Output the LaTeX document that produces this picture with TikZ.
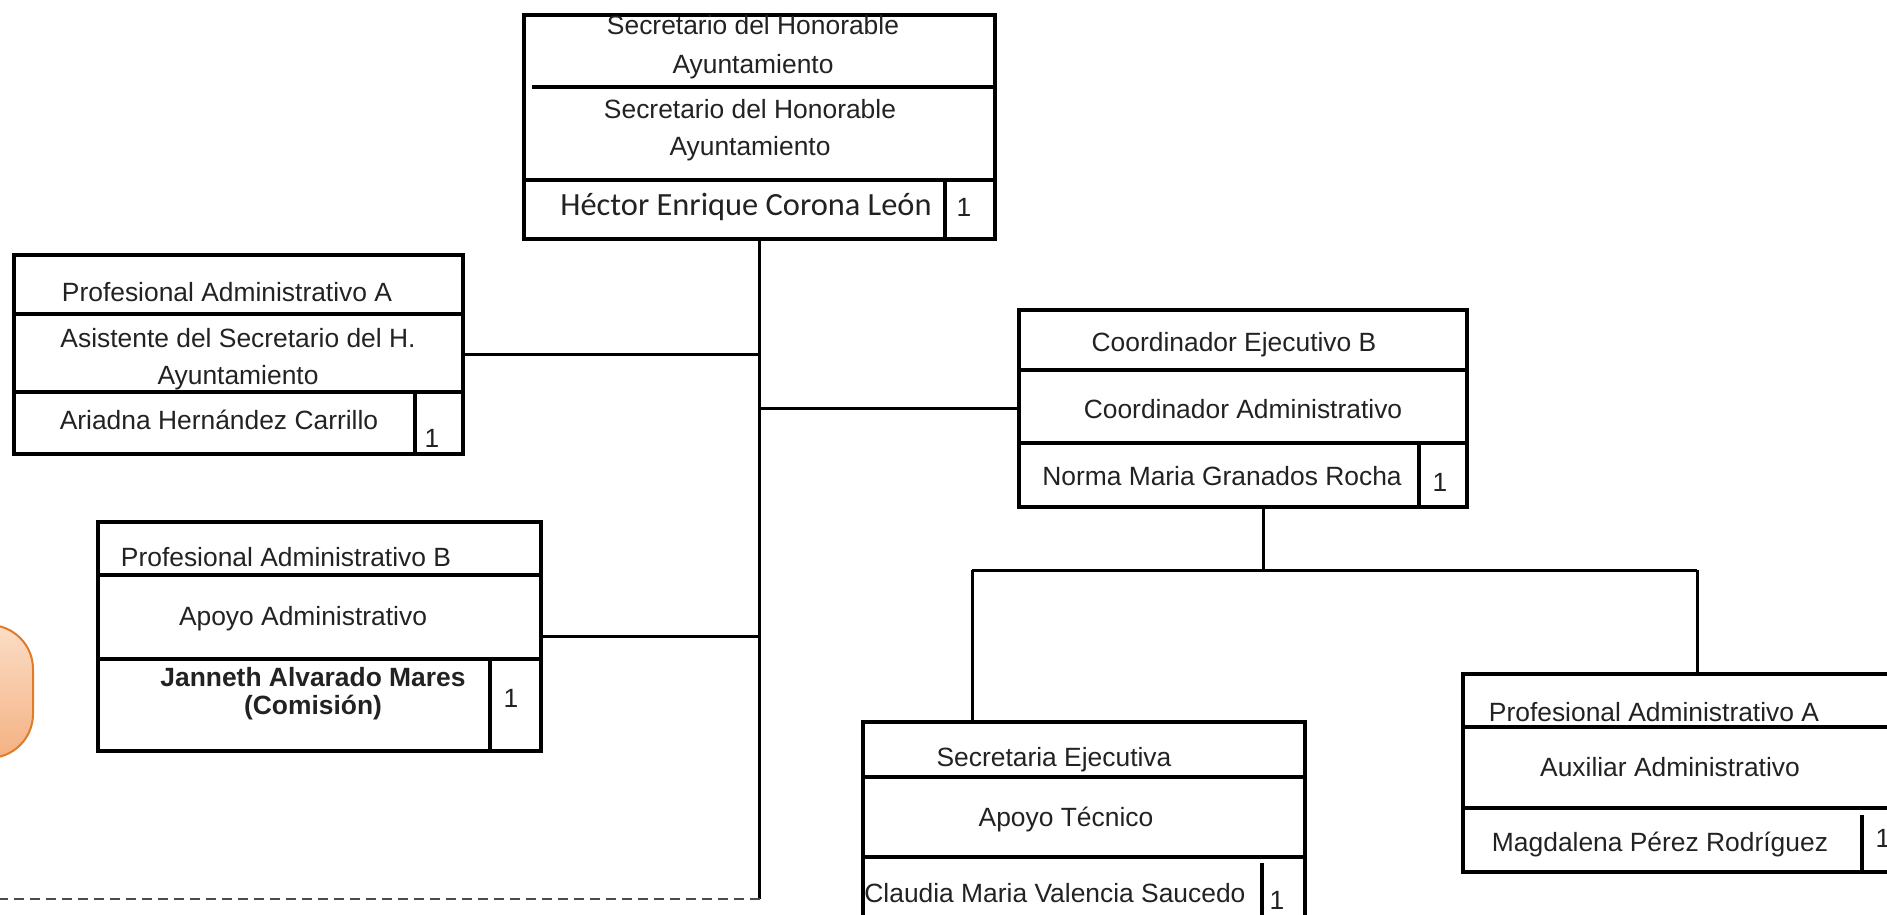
\documentclass[tikz,border=0pt]{standalone}
\usepackage{fontspec}
\setmainfont{Liberation Sans}
\newfontfamily\namefont{Carlito}
\usetikzlibrary{calc}
\tikzset{>=stealth}

\definecolor{peachtop}{HTML}{FBDDC6}
\definecolor{peachbot}{HTML}{F4B182}
\definecolor{orangeline}{HTML}{E07B2A}
\definecolor{inkgray}{HTML}{222222}

\tikzset{
  cargo/.style={draw=black, line width=2pt, rectangle, inner sep=0pt, anchor=north west},
  rowline/.style={line width=1.7pt},
  link/.style={line width=1.5pt},
  txt/.style={align=center, inner sep=0pt, text=inkgray, font=\fontsize{13.2pt}{18.5pt}\selectfont},
  nametxt/.style={inner sep=0pt, text=inkgray, font=\namefont\fontsize{16.2pt}{19pt}\selectfont},
}

\begin{document}
\begin{tikzpicture}[x=0.5pt, y=-0.5pt]

    \useasboundingbox (0,0) rectangle (1887,915);
    \clip (0,0) rectangle (1887,915);

    % Cut-off rounded shape on the left edge
    \shade[top color=peachtop, bottom color=peachbot, draw=orangeline, line width=1pt, rounded corners=22pt] (-60,625) rectangle (33,758);

    % Boxes of the chart
    \node[cargo, minimum width=235.5pt, minimum height=112pt] (sec) at (522,13) {};     % Secretario
    \node[cargo, minimum width=224.5pt, minimum height=99.5pt] (asst) at (12,253) {};   % Asistente
    \node[cargo, minimum width=221.5pt, minimum height=114.5pt] (apoyo) at (96,520) {}; % Apoyo Administrativo
    \node[cargo, minimum width=224pt, minimum height=98.5pt] (coord) at (1017,308) {};  % Coordinador
    \node[cargo, minimum width=221pt, minimum height=125pt] (secej) at (861,720) {};    % Secretaria Ejecutiva
    \node[cargo, minimum width=240pt, minimum height=99pt] (mag) at (1461,672) {};      % Auxiliar

    % Rows and number cells
    \draw[rowline] (532,87) -- (993,87);
    \draw[rowline] (522,180) -- (993,180);
    \draw[rowline] (945,180) -- (945,237);

    \draw[rowline] (12,314) -- (461,314);
    \draw[rowline] (12,392) -- (461,392);
    \draw[rowline] (415,392) -- (415,452);

    \draw[rowline] (96,575) -- (539,575);
    \draw[rowline] (96,659) -- (539,659);
    \draw[rowline] (490,659) -- (490,749);

    \draw[rowline] (1017,370) -- (1465,370);
    \draw[rowline] (1017,443) -- (1465,443);
    \draw[rowline] (1419,443) -- (1419,505);

    \draw[rowline] (861,777) -- (1303,777);
    \draw[rowline] (861,857) -- (1303,857);

    \draw[rowline] (1461,727) -- (1941,727);
    \draw[rowline] (1461,808) -- (1941,808);
    \draw[rowline] (1862,815) -- (1862,870);

    % Texts
    \node[txt, font=\fontsize{13.2pt}{19.5pt}\selectfont] (sec-t1) at (753,47.5) {Secretario del Honorable\\Ayuntamiento};
    \node[txt] (sec-t2) at (750,130) {Secretario del Honorable\\Ayuntamiento};
    \node[nametxt] (sec-n) at (746,207) {Héctor Enrique Corona León};
    \node[txt] (sec-q) at (964,207) {1};

    \node[txt] (asst-t1) at (227,292) {Profesional Administrativo A};
    \node[txt] (asst-t2) at (238,359) {Asistente del Secretario del H.\\Ayuntamiento};
    \node[txt] (asst-n) at (219,420) {Ariadna Hernández Carrillo};
    \node[txt] (asst-q) at (432,438) {1};

    \node[txt] (apoyo-t1) at (286,557) {Profesional Administrativo B};
    \node[txt] (apoyo-t2) at (303,619) {Apoyo Administrativo};
    \node[txt, font=\bfseries\fontsize{13.2pt}{14pt}\selectfont] (apoyo-n) at (313,694) {Janneth Alvarado Mares\\(Comisión)};
    \node[txt] (apoyo-q) at (511,698) {1};

    \node[txt] (coord-t1) at (1234,345) {Coordinador Ejecutivo B};
    \node[txt] (coord-t2) at (1243,409) {Coordinador Administrativo};
    \node[txt] (coord-n) at (1222,476) {Norma Maria Granados Rocha};
    \node[txt] (coord-q) at (1440,482) {1};

    \node[txt] (secej-t1) at (1054,760) {Secretaria Ejecutiva};
    \node[txt] (secej-t2) at (1066,820) {Apoyo Técnico};
    \node[txt, anchor=west] (secej-n) at (864,893) {Claudia Maria Valencia Saucedo};
    \node[txt] (secej-q) at (1277,900) {1};

    \node[txt] (mag-t1) at (1654,712) {Profesional Administrativo A};
    \node[txt] (mag-t2) at (1670,767) {Auxiliar Administrativo};
    \node[txt] (mag-n) at (1660,845) {Magdalena Pérez Rodríguez};
    \node[txt] (mag-q) at (1883,838) {1};

    % Number cell of the cut-off box
    \draw[rowline] (1262,863) -- (1262,930);

    % Connectors
    \coordinate (trunkend) at (758,899);
    \coordinate (dashend) at (0,899);
    \draw[link] (sec.south) -- (sec.south |- trunkend);
    \draw[link] (asst.east) -- (asst.east -| sec.south);
    \draw[link] (apoyo.east) -- (apoyo.east -| sec.south);
    \draw[link] (coord.west -| sec.south) -- (coord.west);
    \draw[gray!60!black, line width=1pt, dash pattern=on 5pt off 3pt] (sec.south |- trunkend) -- (dashend);

    \coordinate (barmid) at (1263,570);
    \coordinate (barL) at (972,570);
    \coordinate (barR) at (1697,570);
    \draw[link] (coord.south -| barmid) -- (barmid);
    \draw[link] (barL) -- (barR);
    \draw[link] (barL) -- (barL |- secej.north);
    \draw[link] (barR) -- (barR |- mag.north);

\end{tikzpicture}
\end{document}
